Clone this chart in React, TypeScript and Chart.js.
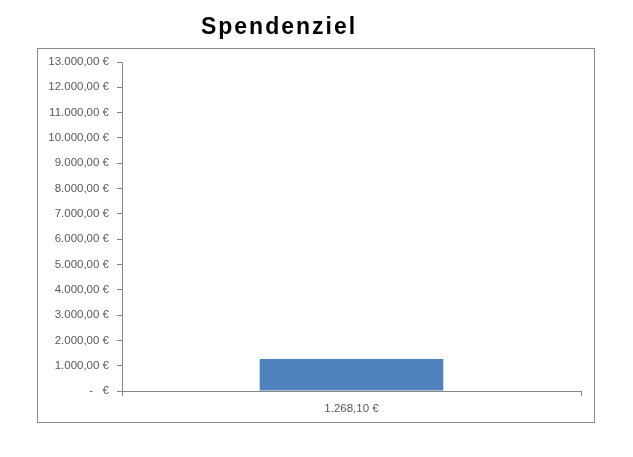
import React, { useEffect, useRef } from "react";
import { Chart, registerables } from "chart.js";

Chart.register(...registerables);

const TITLE = "Spendenziel";
const categories = ["1.268,10 €"];
const values = [1268.1];
const yMin = 0;
const yMax = 13000;
const yStep = 1000;

const fmt = (v: number) =>
  v === 0
    ? "-   €"
    : v.toLocaleString("de-DE", { minimumFractionDigits: 2, maximumFractionDigits: 2 }) + " €";

const framePlugin = {
  id: "frameAndTitle",
  beforeDraw(chart: any) {
    const ctx = chart.ctx;
    ctx.save();
    ctx.fillStyle = "#ffffff";
    ctx.fillRect(0, 0, chart.width, chart.height);
    ctx.strokeStyle = "#8a8a8a";
    ctx.lineWidth = 1;
    ctx.strokeRect(37.5, 48.5, 557, 374);
    ctx.restore();
  },
  afterDraw(chart: any) {
    const ctx = chart.ctx;
    ctx.save();
    ctx.font = "bold 23px 'Liberation Sans', Arial, sans-serif";
    (ctx as any).letterSpacing = "2px";
    ctx.fillStyle = "#000000";
    ctx.textAlign = "center";
    ctx.textBaseline = "alphabetic";
    ctx.fillText(TITLE, 279, 34);
    ctx.restore();
  },
};

export default function App() {
  const ref = useRef<HTMLCanvasElement>(null);
  useEffect(() => {
    if (!ref.current) return;
    const chart = new Chart(ref.current, {
      type: "bar",
      data: {
        labels: categories,
        datasets: [
          {
            data: values,
            backgroundColor: "#4F81BD",
            borderWidth: 0,
            categoryPercentage: 1,
            barPercentage: 0.4,
          },
        ],
      },
      options: {
        animation: false,
        responsive: false,
        maintainAspectRatio: false,
        layout: { padding: { left: 37, right: 52, top: 62, bottom: 36 } },
        plugins: {
          legend: { display: false },
          tooltip: { enabled: false },
          title: { display: false },
        },
        scales: {
          x: {
            offset: true,
            grid: {
              offset: true,
              drawOnChartArea: false,
              drawTicks: true,
              tickLength: 5,
              color: "#868686",
            },
            border: { display: true, color: "#868686" },
            ticks: {
              padding: 6,
              color: "#595959",
              font: { family: "'Liberation Sans', Arial, sans-serif", size: 11.5 },
            },
            afterFit(scale: any) {
              scale.height = 30;
            },
          },
          y: {
            min: yMin,
            max: yMax,
            grid: {
              drawOnChartArea: false,
              drawTicks: true,
              tickLength: 5,
              color: "#868686",
            },
            border: { display: true, color: "#868686" },
            ticks: {
              stepSize: yStep,
              padding: 8,
              color: "#595959",
              font: { family: "'Liberation Sans', Arial, sans-serif", size: 11.5 },
              callback: (v: any) => fmt(Number(v)),
            },
            afterFit(scale: any) {
              scale.width = 85;
            },
          },
        },
      },
      plugins: [framePlugin],
    });
    return () => chart.destroy();
  }, []);
  return (
    <div style={{ position: "absolute", left: 0, top: 0, width: 633, height: 457 }}>
      <canvas ref={ref} width={633} height={457} />
    </div>
  );
}
